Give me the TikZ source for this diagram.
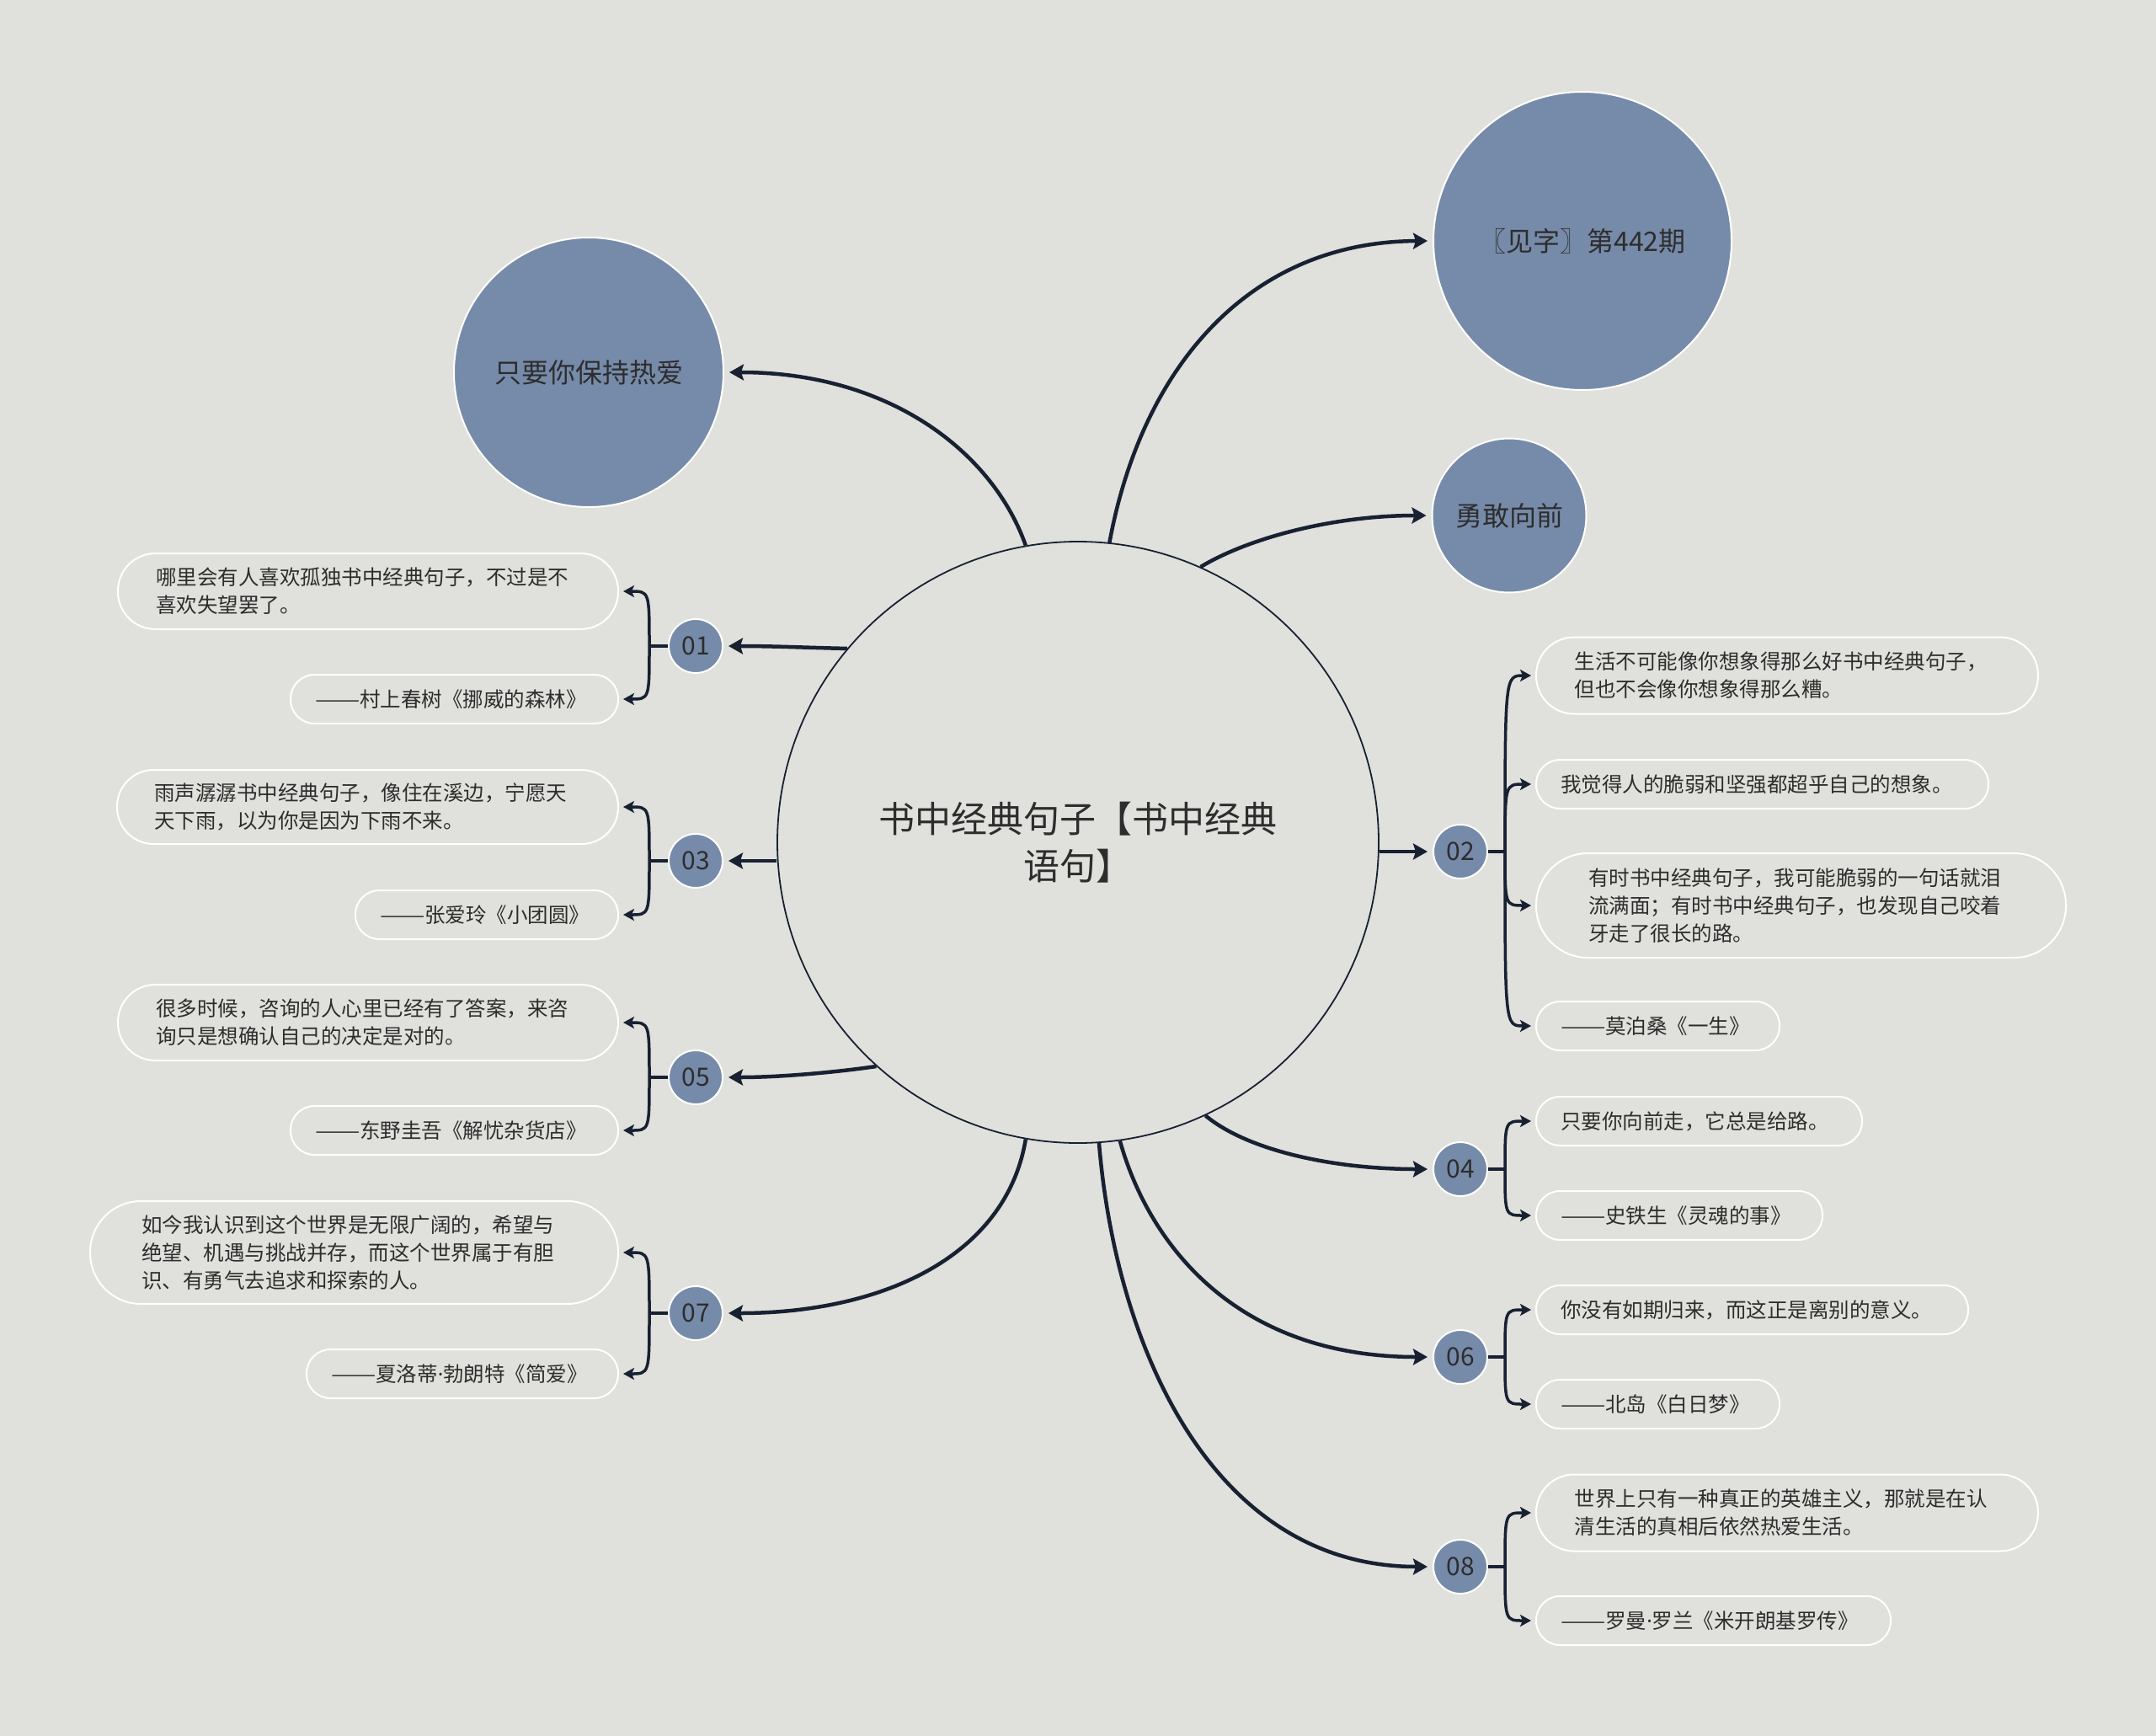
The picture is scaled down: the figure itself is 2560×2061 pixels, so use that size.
\documentclass[tikz,border=0pt]{standalone}
\usepackage{fontspec}
\usepackage{graphicx}
\setmainfont{Noto Sans CJK SC}
\newfontfamily\latinfnt{Noto Sans}
\newcommand\ddsh{\scalebox{1.3}[1]{——}}
\newcommand\mdot{{\latinfnt ·}}
\usetikzlibrary{arrows.meta}
\definecolor{bg}{RGB}{224,224,220}
\definecolor{blu}{RGB}{118,139,169}
\definecolor{ink}{RGB}{24,33,50}
\definecolor{txt}{RGB}{45,45,45}
\begin{document}
\begin{tikzpicture}[x=1pt,y=-1pt,
  every node/.style={text=txt},
  hub/.style={circle, draw=ink, line width=1.8pt, minimum size=714pt, inner sep=0pt, align=center, font=\fontsize{43}{56}\selectfont},
  big/.style={circle, fill=blu, draw=white, line width=2pt, inner sep=0pt, font=\fontsize{32}{40}\selectfont},
  num/.style={circle, fill=blu, draw=white, line width=2pt, minimum size=64pt, inner sep=0pt, font=\fontsize{30}{36}\selectfont},
  pill/.style={draw=white, line width=2pt, rectangle, rounded corners={#1*0.5pt-0.5pt}, minimum height={#1*1pt}, inner xsep={#1*0.5pt}, inner ysep=2pt, align=left, font=\fontsize{24.5}{33}\selectfont},
  main/.style={draw=ink, line width=4.5pt, -{Stealth[length=17pt,width=19pt,inset=3pt]}, shorten >=6pt},
  brk/.style={draw=ink, line width=3.5pt, -{Stealth[length=13pt,width=14pt,inset=3pt]}, shorten >=5pt},
  stub/.style={draw=ink, line width=3.5pt}
]
\useasboundingbox (0,0) rectangle (2560,2061);
\fill[bg] (0,0) rectangle (2560,2061);

% central and big nodes
\node[hub] (c) at (1280,1000) {书中经典句子【书中经典\\语句】};
\node[big, minimum size=354pt] (jz) at (1879,286) {〖见字〗第442期};
\node[big, minimum size=183pt] (yg) at (1792,612) {勇敢向前};
\node[big, minimum size=320pt] (zy) at (699,442) {只要你保持热爱};

% number nodes
\node[num] (n01) at (826,767) {01};
\node[num] (n03) at (826,1022) {03};
\node[num] (n05) at (826,1279) {05};
\node[num] (n07) at (826,1559) {07};
\node[num] (n02) at (1734,1011) {02};
\node[num] (n04) at (1734,1388) {04};
\node[num] (n06) at (1734,1611) {06};
\node[num] (n08) at (1734,1860) {08};

% left leaves
\node[pill=90, text width=504pt, anchor=east] (l1a) at (735,702) {哪里会有人喜欢孤独书中经典句子，不过是不\\喜欢失望罢了。};
\node[pill=58, text width=331pt, anchor=east] (l1b) at (735,830) {\mbox{\ddsh 村上春树《挪威的森林》}};
\node[pill=88, text width=507pt, anchor=east] (l3a) at (735,958) {雨声潺潺书中经典句子，像住在溪边，宁愿天\\天下雨，以为你是因为下雨不来。};
\node[pill=58, text width=254pt, anchor=east] (l3b) at (735,1086) {\mbox{\ddsh 张爱玲《小团圆》}};
\node[pill=90, text width=504pt, anchor=east] (l5a) at (735,1214) {很多时候，咨询的人心里已经有了答案，来咨\\询只是想确认自己的决定是对的。};
\node[pill=58, text width=331pt, anchor=east] (l5b) at (735,1342) {\mbox{\ddsh 东野圭吾《解忧杂货店》}};
\node[pill=122, text width=505pt, anchor=east] (l7a) at (735,1487) {如今我认识到这个世界是无限广阔的，希望与\\绝望、机遇与挑战并存，而这个世界属于有胆\\识、有勇气去追求和探索的人。};
\node[pill=58, text width=312pt, anchor=east] (l7b) at (735,1631) {\mbox{\ddsh 夏洛蒂\mdot 勃朗特《简爱》}};

% right leaves
\node[pill=91, text width=505pt, anchor=west] (r2a) at (1823,802) {生活不可能像你想象得那么好书中经典句子，\\但也不会像你想象得那么糟。};
\node[pill=58, text width=479pt, anchor=west] (r2b) at (1823,931) {\mbox{我觉得人的脆弱和坚强都超乎自己的想象。}};
\node[pill=124, text width=505pt, anchor=west] (r2c) at (1823,1075) {有时书中经典句子，我可能脆弱的一句话就泪\\流满面；有时书中经典句子，也发现自己咬着\\牙走了很长的路。};
\node[pill=58, text width=231pt, anchor=west] (r2d) at (1823,1218) {\mbox{\ddsh 莫泊桑《一生》}};
\node[pill=58, text width=329pt, anchor=west] (r4a) at (1823,1331) {\mbox{只要你向前走，它总是给路。}};
\node[pill=58, text width=282pt, anchor=west] (r4b) at (1823,1443) {\mbox{\ddsh 史铁生《灵魂的事》}};
\node[pill=58, text width=455pt, anchor=west] (r6a) at (1823,1555) {\mbox{你没有如期归来，而这正是离别的意义。}};
\node[pill=58, text width=231pt, anchor=west] (r6b) at (1823,1667) {\mbox{\ddsh 北岛《白日梦》}};
\node[pill=91, text width=505pt, anchor=west] (r8a) at (1823,1796) {世界上只有一种真正的英雄主义，那就是在认\\清生活的真相后依然热爱生活。};
\node[pill=58, text width=363pt, anchor=west] (r8b) at (1823,1924) {\mbox{\ddsh 罗曼\mdot 罗兰《米开朗基罗传》}};

% main connectors
\draw[main] (c.84.7) .. controls (1355,440) and (1480,287) .. (jz.west);
\draw[main] (c.66.2) .. controls (1480,640) and (1580,612) .. (yg.west);
\draw[main] (c.east |- n02.west) -- (n02.west);
\draw[main] (c.-65.9) .. controls (1480,1365) and (1580,1388) .. (n04.west);
\draw[main] (c.-82.3) .. controls (1365,1480) and (1470,1611) .. (n06.west);
\draw[main] (c.-86.3) .. controls (1325,1600) and (1440,1860) .. (n08.west);
\draw[main] (c.-100) .. controls (1195,1490) and (1050,1559) .. (n07.east);
\draw[main] (c.-132) .. controls (1000,1272) and (930,1279) .. (n05.east);
\draw[main] (c.west |- n03.east) -- (n03.east);
\draw[main] (c.140.7) .. controls (960,769) and (920,767) .. (n01.east);
\draw[main] (c.100) .. controls (1180,540) and (1060,442) .. (zy.east);

% bracket junctions
\coordinate (s01) at ([xshift=-22pt]n01.west);
\coordinate (s03) at ([xshift=-22pt]n03.west);
\coordinate (s05) at ([xshift=-22pt]n05.west);
\coordinate (s07) at ([xshift=-22pt]n07.west);
\coordinate (s02) at ([xshift=20pt]n02.east);
\coordinate (s04) at ([xshift=20pt]n04.east);
\coordinate (s06) at ([xshift=20pt]n06.east);
\coordinate (s08) at ([xshift=20pt]n08.east);

\draw[stub] (n01.west) -- (s01);
\draw[stub] (n03.west) -- (s03);
\draw[stub] (n05.west) -- (s05);
\draw[stub] (n07.west) -- (s07);
\draw[stub] (n02.east) -- (s02);
\draw[stub] (n04.east) -- (s04);
\draw[stub] (n06.east) -- (s06);
\draw[stub] (n08.east) -- (s08);

% left brackets
\draw[brk] (s01) .. controls (s01 |- l1a.east) .. (l1a.east);
\draw[brk] (s01) .. controls (s01 |- l1b.east) .. (l1b.east);
\draw[brk] (s03) .. controls (s03 |- l3a.east) .. (l3a.east);
\draw[brk] (s03) .. controls (s03 |- l3b.east) .. (l3b.east);
\draw[brk] (s05) .. controls (s05 |- l5a.east) .. (l5a.east);
\draw[brk] (s05) .. controls (s05 |- l5b.east) .. (l5b.east);
\draw[brk] (s07) .. controls (s07 |- l7a.east) .. (l7a.east);
\draw[brk] (s07) .. controls (s07 |- l7b.east) .. (l7b.east);

% right brackets
\draw[brk] (s02) .. controls (s02 |- r2a.west) .. (r2a.west);
\draw[brk] (s02) .. controls (s02 |- r2b.west) .. (r2b.west);
\draw[brk] (s02) .. controls (s02 |- r2c.west) .. (r2c.west);
\draw[brk] (s02) .. controls (s02 |- r2d.west) .. (r2d.west);
\draw[brk] (s04) .. controls (s04 |- r4a.west) .. (r4a.west);
\draw[brk] (s04) .. controls (s04 |- r4b.west) .. (r4b.west);
\draw[brk] (s06) .. controls (s06 |- r6a.west) .. (r6a.west);
\draw[brk] (s06) .. controls (s06 |- r6b.west) .. (r6b.west);
\draw[brk] (s08) .. controls (s08 |- r8a.west) .. (r8a.west);
\draw[brk] (s08) .. controls (s08 |- r8b.west) .. (r8b.west);
\end{tikzpicture}
\end{document}
